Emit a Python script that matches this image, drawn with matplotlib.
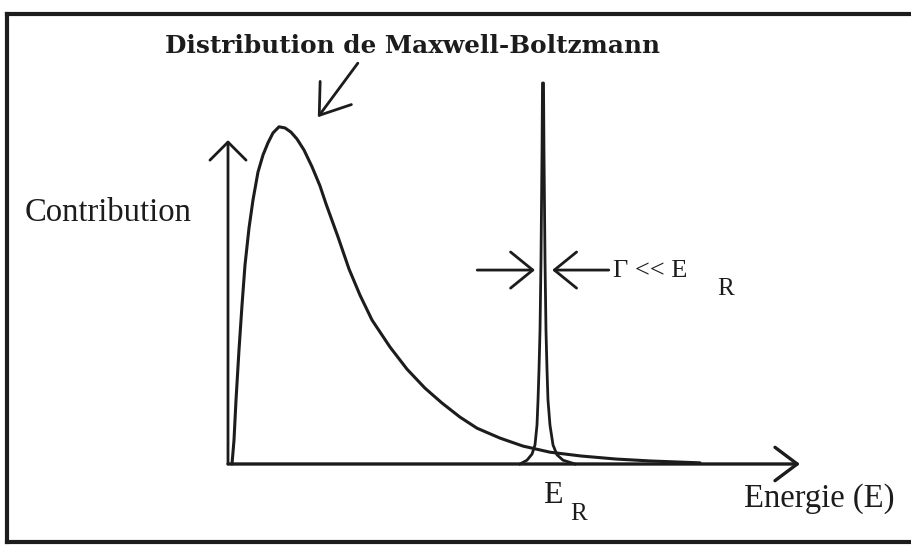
import matplotlib
matplotlib.use("Agg")
import matplotlib.pyplot as plt
from matplotlib.lines import Line2D

# ---- data (arbitrary units: energy 0..100, contribution 0..100) ----
mb_energy = [0.70, 1.05, 1.40, 1.92, 2.45, 2.97, 3.67, 4.37, 5.24, 6.12, 6.99, 7.87,
             8.92, 9.97, 11.01, 12.06, 13.29, 14.69, 16.08, 17.13, 19.23, 21.15, 23.08,
             25.17, 28.32, 31.29, 34.44, 37.41, 40.56, 43.53, 47.55, 51.57, 56.29,
             61.71, 67.83, 73.78, 82.52]
mb_contrib = [0.0, 6.3, 16.8, 29.9, 41.7, 52.2, 61.9, 69.3, 76.6, 81.1, 84.3, 86.9,
              88.5, 88.2, 87.1, 85.3, 82.4, 78.0, 73.0, 68.3, 59.6, 51.2, 44.3,
              37.8, 30.7, 24.9, 19.9, 16.0, 12.3, 9.4, 6.8, 4.7, 3.1,
              2.1, 1.3, 0.8, 0.3]

res_energy = [51.05, 52.27, 53.15, 53.67, 54.02, 54.20, 54.37, 54.55, 54.72, 54.90,
              54.98, 55.16, 55.24, 55.42, 55.59, 55.77, 55.94, 56.29, 56.82, 57.52,
              58.57, 60.66]
res_contrib = [0.0, 1.0, 2.6, 5.0, 10.2, 16.8, 24.7, 35.2, 53.5, 82.4,
               100.0, 100.0, 82.4, 53.5, 35.2, 24.7, 16.8, 10.2, 5.0, 2.4,
               1.0, 0.0]

E_R = 55.07
axis_max_E = 100
axis_max_C = 85
gamma_level = 50.9

title_text = "Distribution de Maxwell-Boltzmann"
ylabel_text = "Contribution"
xlabel_text = "Energie (E)"

ink = "#1c1c1c"

fig = plt.figure(figsize=(9.12, 5.45), dpi=100)
ax = fig.add_axes([0, 0, 1, 1])
ax.set_xlim(-39.86, 119.58)
ax.set_ylim(-21.26, 121.78)
ax.axis("off")

# outer frame (top, left, bottom)
fw = 3.0
fig.add_artist(Line2D([0.0077, 1.0], [0.9743, 0.9743], transform=fig.transFigure,
                      color=ink, lw=fw))
fig.add_artist(Line2D([0.0077, 0.0077], [0.9743, 0.0055], transform=fig.transFigure,
                      color=ink, lw=fw))
fig.add_artist(Line2D([0.0077, 1.0], [0.0055, 0.0055], transform=fig.transFigure,
                      color=ink, lw=fw))

# axes with open arrowheads
ax.annotate("", xy=(axis_max_E, 0), xytext=(0, 0),
            arrowprops=dict(arrowstyle="->,head_length=0.8,head_width=0.6",
                            lw=2.4, color=ink, shrinkA=0, shrinkB=0,
                            mutation_scale=20))
ax.annotate("", xy=(0, axis_max_C), xytext=(0, 0),
            arrowprops=dict(arrowstyle="->,head_length=0.65,head_width=0.65",
                            lw=2.0, color=ink, shrinkA=0, shrinkB=0,
                            mutation_scale=20))

# curves
ax.plot(mb_energy, mb_contrib, color=ink, lw=2.2, solid_capstyle="round",
        solid_joinstyle="round")
ax.plot(res_energy, res_contrib, color=ink, lw=2.0, solid_joinstyle="round")

# Gamma arrows
ax.annotate("", xy=(E_R - 1.4, gamma_level), xytext=(E_R - 11.5, gamma_level),
            arrowprops=dict(arrowstyle="->,head_length=0.8,head_width=0.65",
                            lw=2.0, color=ink, shrinkA=0, shrinkB=0,
                            mutation_scale=20))
ax.annotate("", xy=(E_R + 1.6, gamma_level), xytext=(E_R + 11.5, gamma_level),
            arrowprops=dict(arrowstyle="->,head_length=0.8,head_width=0.65",
                            lw=2.0, color=ink, shrinkA=0, shrinkB=0,
                            mutation_scale=20))

# pointer arrow to the Maxwell-Boltzmann curve
ax.annotate("", xy=(15.7, 91.0), xytext=(22.7, 105.2),
            arrowprops=dict(arrowstyle="->,head_length=1.0,head_width=0.7",
                            lw=2.0, color=ink, shrinkA=0, shrinkB=0,
                            mutation_scale=20))

# texts
ax.text(32.3, 108.0, title_text, ha="center", va="baseline",
        fontsize=17.8, fontweight="bold", family="DejaVu Serif", color=ink)
ax.text(-35.5, 63.8, ylabel_text, ha="left", va="baseline",
        fontsize=23.5, family="Liberation Serif", color=ink)
ax.text(103.3, -11.3, xlabel_text, ha="center", va="baseline",
        fontsize=23.5, family="Liberation Serif", color=ink)
ax.text(55.0, -10.2, "E", ha="left", va="baseline",
        fontsize=23, family="Liberation Serif", color=ink)
ax.text(59.8, -14.7, "R", ha="left", va="baseline",
        fontsize=18, family="Liberation Serif", color=ink)
ax.text(67.3, 49.1, "\u0393 << E", ha="left", va="baseline",
        fontsize=19, family="Liberation Serif", color=ink)
ax.text(85.5, 44.3, "R", ha="left", va="baseline",
        fontsize=18, family="Liberation Serif", color=ink)

fig.savefig("out.png", dpi=100, facecolor="white")
